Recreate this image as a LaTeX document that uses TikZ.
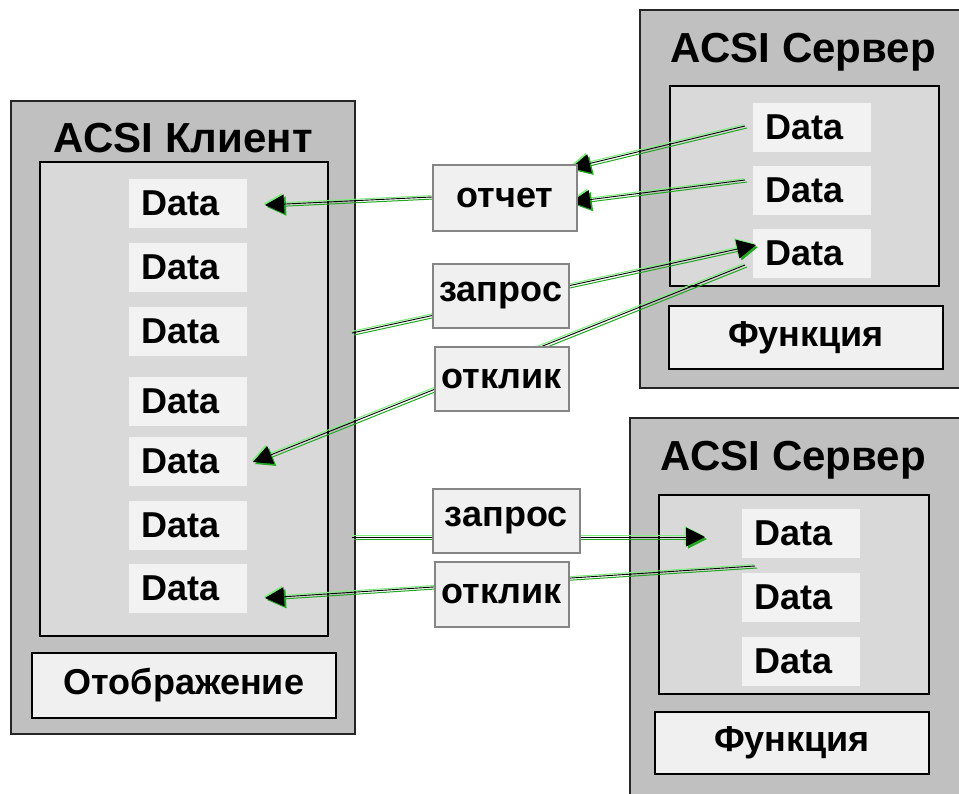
\documentclass[tikz,border=0pt]{standalone}
\usepackage{fontspec}
\setmainfont{Liberation Sans}
\usetikzlibrary{arrows.meta}
\definecolor{outergray}{HTML}{C0C0C0}
\definecolor{innergray}{HTML}{D9D9D9}
\definecolor{datagray}{HTML}{F2F2F2}
\definecolor{msggray}{HTML}{F0F0F0}
\definecolor{msgborder}{HTML}{858585}
\definecolor{lgreen}{HTML}{7CF07C}
\definecolor{dgreen}{HTML}{22A822}
\tikzset{
  tipshape/.tip={Triangle[length=19pt,width=19pt]}
}
\begin{document}
\begin{tikzpicture}[x=1pt,y=-1pt,
  every node/.style={font=\bfseries\fontsize{36}{40}\selectfont, inner sep=0pt, anchor=north west},
  outerbox/.style={draw=black!85, line width=1.8pt, fill=outergray},
  innerbox/.style={draw=black, line width=1.8pt, fill=innergray},
  databox/.style={fill=datagray, minimum height=49pt, text width=94pt, inner xsep=12pt, align=left},
  funcbox/.style={draw=black, line width=1.8pt, fill=msggray},
  msgbox/.style={draw=msgborder, line width=1.6pt, fill=msggray},
  titletext/.style={font=\bfseries\fontsize{42}{46}\selectfont, anchor=base},
  wire/.style={line width=0.9pt, draw=black, -{tipshape},
    preaction={draw=lgreen, line width=1pt, -{tipshape},
      transform canvas={shift={(-1.4pt,1.4pt)}}},
    preaction={draw=dgreen, line width=1pt, -{tipshape},
      transform canvas={shift={(2pt,-2pt)}}}}
]
\useasboundingbox (0,0) rectangle (959,793);

% ---------- client ----------
\node[outerbox, minimum width=344pt, minimum height=633pt] (client) at (10,100) {};
\node[titletext] (clienttitle) at (183,152) {ACSI Клиент};
\node[innerbox, minimum width=288pt, minimum height=474pt] (clientin) at (39,161) {};
\node[databox] (cd1) at (129,179) {Data};
\node[databox] (cd2) at (129,243) {Data};
\node[databox] (cd3) at (129,307) {Data};
\node[databox] (cd4) at (129,377) {Data};
\node[databox] (cd5) at (129,437) {Data};
\node[databox] (cd6) at (129,501) {Data};
\node[databox] (cd7) at (129,564) {Data};
\node[funcbox, minimum width=304pt, minimum height=65pt, text depth=9pt] (display) at (31,652) {Отображение};

% ---------- top server ----------
\node[outerbox, minimum width=330pt, minimum height=378pt] (srvA) at (639,9) {};
\node[titletext] (srvAtitle) at (803,62) {ACSI Сервер};
\node[innerbox, minimum width=269pt, minimum height=200pt] (srvAin) at (669,85) {};
\node[databox] (ad1) at (753,103) {Data};
\node[databox] (ad2) at (753,166) {Data};
\node[databox] (ad3) at (753,229) {Data};
\node[funcbox, minimum width=274pt, minimum height=63pt] (funcA) at (668,305) {Функция};

% ---------- bottom server ----------
\node[outerbox, minimum width=340pt, minimum height=390pt] (srvB) at (629,417) {};
\node[titletext] (srvBtitle) at (793,470) {ACSI Сервер};
\node[innerbox, minimum width=270pt, minimum height=199pt] (srvBin) at (658,494) {};
\node[databox] (bd1) at (742,509) {Data};
\node[databox] (bd2) at (742,573) {Data};
\node[databox] (bd3) at (742,637) {Data};
\node[funcbox, minimum width=274pt, minimum height=62pt] (funcB) at (654,711) {Функция};

% ---------- connector end points ----------
\coordinate (s1) at (745,126);
\coordinate (t1) at (571,168);
\coordinate (s2) at (745,180);
\coordinate (t2) at (571,202);
\coordinate (s3) at (432,197);
\coordinate (t3) at (265,205);
\coordinate (s4) at (352,333);
\coordinate (t4) at (756,245);
\coordinate (s5) at (745,265);
\coordinate (t5) at (253,462);
\coordinate (s6) at (352,537);
\coordinate (t6) at (705,537);
\coordinate (s7) at (755,566);
\coordinate (t7) at (265,598);

% ---------- connectors ----------
\draw[wire] (s1) -- (t1);
\draw[wire] (s2) -- (t2);
\draw[wire] (s3) -- (t3);
\draw[wire] (s4) -- (t4);
\draw[wire] (s5) -- (t5);
\draw[wire] (s6) -- (t6);
\draw[wire] (s7) -- (t7);

% ---------- message boxes ----------
\node[msgbox, minimum width=144pt, minimum height=66pt] (otchet) at (432,164) {отчет};
\node[msgbox, minimum width=136pt, minimum height=64pt] (req1) at (432,263) {запрос};
\node[msgbox, minimum width=134pt, minimum height=64pt] (resp1) at (434,346) {отклик};
\node[msgbox, minimum width=147pt, minimum height=64pt] (req2) at (432,488) {запрос};
\node[msgbox, minimum width=134pt, minimum height=65pt] (resp2) at (434,561) {отклик};
\end{tikzpicture}
\end{document}
